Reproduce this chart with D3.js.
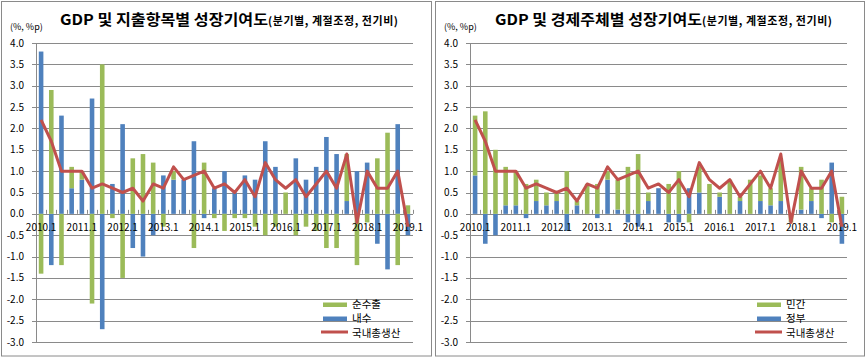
<!DOCTYPE html>
<html><head><meta charset="utf-8">
<script src="https://cdn.jsdelivr.net/npm/d3@7"></script>
<style>
body{margin:0;background:#fff}
svg text{font-family:"Noto Sans CJK KR","Malgun Gothic",sans-serif;fill:#000}
</style>
</head><body>
<svg id="c" width="868" height="359"></svg>
<script>
// ---- data ----
const quarters = ["2010.1","2010.2","2010.3","2010.4","2011.1","2011.2","2011.3","2011.4",
  "2012.1","2012.2","2012.3","2012.4","2013.1","2013.2","2013.3","2013.4",
  "2014.1","2014.2","2014.3","2014.4","2015.1","2015.2","2015.3","2015.4",
  "2016.1","2016.2","2016.3","2016.4","2017.1","2017.2","2017.3","2017.4",
  "2018.1","2018.2","2018.3","2018.4","2019.1"];
const xTickLabels = ["2010.1","2011.1","2012.1","2013.1","2014.1","2015.1","2016.1","2017.1","2018.1","2019.1"];
const yTicks = [-3.0,-2.5,-2.0,-1.5,-1.0,-0.5,0.0,0.5,1.0,1.5,2.0,2.5,3.0,3.5,4.0];

const gdp = [2.2,1.7,1.0,1.0,1.0,0.6,0.7,0.6,0.5,0.6,0.3,0.7,0.6,1.1,0.8,0.9,
  1.0,0.6,0.7,0.5,0.8,0.4,1.2,0.8,0.6,0.8,0.4,0.7,1.0,0.6,1.4,-0.2,1.0,0.6,0.6,1.0,-0.3];
// left chart
const domestic = [3.8,-1.2,2.3,0.6,0.8,2.7,-2.7,0.7,2.1,-0.8,-1.0,-0.5,0.9,0.8,0.8,1.7,
  -0.1,0.6,1.0,0.5,0.9,0.8,1.7,1.1,0.0,1.3,0.8,1.1,1.8,1.4,0.3,1.0,1.2,-0.7,-1.3,2.1,-0.5];
const netExports = [-1.4,2.9,-1.2,0.5,0.2,-2.1,3.5,-0.1,-1.5,1.3,1.4,1.2,-0.3,0.2,0.0,-0.8,
  1.2,-0.1,-0.4,-0.1,-0.1,-0.3,-0.5,-0.3,0.5,-0.5,-0.3,-0.4,-0.8,-0.8,1.1,-1.2,-0.2,1.3,1.9,-1.2,0.2];
// right chart
const government = [0.9,-0.7,-0.5,0.2,0.2,-0.1,0.3,0.2,0.3,-0.4,0.2,0.0,-0.1,0.8,0.1,-0.2,
  -0.3,0.3,0.6,-0.2,-0.2,0.6,0.5,0.0,0.4,0.0,0.3,0.0,0.3,0.2,0.3,0.0,0.1,0.3,-0.1,1.2,-0.7];
const privateSector = [1.4,2.4,1.5,0.9,0.8,0.7,0.5,0.3,0.2,1.0,0.1,0.7,0.7,0.2,0.7,1.1,
  1.4,0.2,0.0,0.7,1.0,-0.2,0.6,0.7,0.1,0.8,0.1,0.8,0.6,0.4,1.0,-0.2,1.0,0.3,0.8,-0.2,0.4];

const COLORS = {green:"#9BBB59", blue:"#4F81BD", red:"#C0504D", grid:"#8a8a8a", border:"#8a8a8a"};

const svg = d3.select("#c");

function drawPanel(cfg){
  const ox = cfg.ox;
  const g = svg.append("g");
  // border
  g.append("rect").attr("x",ox+1.5).attr("y",1.5).attr("width",cfg.bw).attr("height",354.5)
    .attr("fill","#fff").attr("stroke",COLORS.border).attr("stroke-width",1);

  const x = d3.scaleBand().domain(quarters).range([ox+36, ox+413]).paddingInner(0.55).paddingOuter(0.275);
  const y = d3.scaleLinear().domain([-3,4]).range([342,43]);
  const step = x.step();

  // gridlines
  g.append("g").selectAll("line").data(yTicks).join("line")
    .attr("x1",ox+32).attr("x2",ox+413)
    .attr("y1",d=>Math.round(y(d))+0.5).attr("y2",d=>Math.round(y(d))+0.5)
    .attr("stroke",COLORS.grid).attr("stroke-width",1);
  // y labels
  g.append("g").selectAll("text").data(yTicks).join("text")
    .attr("x",ox+24).attr("y",d=>y(d)).attr("dy","0.35em").attr("text-anchor","end")
    .attr("font-size",10).text(d=>d.toFixed(1));
  // y axis line
  g.append("line").attr("x1",ox+36.5).attr("x2",ox+36.5).attr("y1",y(4)).attr("y2",y(-3))
    .attr("stroke",COLORS.grid);

  // stacked bars
  const rows = quarters.map((q,i)=>({q, blue:cfg.blue[i], green:cfg.green[i]}));
  const stack = d3.stack().keys(["blue","green"]).offset(d3.stackOffsetDiverging)(rows);
  g.append("g").selectAll("g").data(stack).join("g")
    .attr("fill",d=>COLORS[d.key])
    .selectAll("rect").data(d=>d).join("rect")
    .attr("x",d=>x(d.data.q)).attr("width",x.bandwidth())
    .attr("y",d=>y(Math.max(d[0],d[1])))
    .attr("height",d=>Math.abs(y(d[0])-y(d[1])));

  // x-axis inside ticks at category boundaries
  const bounds = quarters.map((q,i)=>x(q)-step*0.275).concat([x(quarters[quarters.length-1])-step*0.275+step]);
  g.append("g").selectAll("line").data(bounds).join("line")
    .attr("x1",d=>Math.round(d)+0.5).attr("x2",d=>Math.round(d)+0.5)
    .attr("y1",y(0)).attr("y2",y(0)-4)
    .attr("stroke",COLORS.grid);

  // x labels
  g.append("g").selectAll("text").data(xTickLabels).join("text")
    .attr("x",d=>x(d)+x.bandwidth()/2).attr("y",231).attr("text-anchor","middle")
    .attr("font-size",10).text(d=>d);

  // GDP line
  const line = d3.line().x((d,i)=>x(quarters[i])+x.bandwidth()/2).y(d=>y(d));
  g.append("path").datum(gdp).attr("d",line).attr("fill","none")
    .attr("stroke",COLORS.red).attr("stroke-width",3).attr("stroke-linejoin","round");

  // titles
  g.append("text").attr("x",ox+cfg.tx).attr("y",25).attr("font-size",15).attr("font-weight","bold")
    .attr("textLength",cfg.tw).attr("lengthAdjust","spacingAndGlyphs").text(cfg.title);
  g.append("text").attr("x",ox+cfg.tx+cfg.tw).attr("y",25).attr("font-size",11).attr("font-weight","bold")
    .attr("textLength",130).attr("lengthAdjust","spacing").text("(분기별, 계절조정, 전기비)");
  g.append("text").attr("x",ox+10).attr("y",30).attr("font-size",9).text("(%, %p)");

  // legend
  const lx = ox+323;
  g.append("rect").attr("x",lx).attr("y",302.5).attr("width",24).attr("height",4.5).attr("fill",COLORS.green);
  g.append("rect").attr("x",lx).attr("y",316.5).attr("width",24).attr("height",4.5).attr("fill",COLORS.blue);
  g.append("line").attr("x1",lx-2).attr("x2",lx+25).attr("y1",332).attr("y2",332)
    .attr("stroke",COLORS.red).attr("stroke-width",3);
  const leg = [[cfg.greenName,304.5],[cfg.blueName,318.5],["국내총생산",333]];
  g.append("g").selectAll("text").data(leg).join("text")
    .attr("x",lx+29).attr("y",d=>d[1]).attr("dy","0.36em").attr("font-size",10.5).text(d=>d[0]);
}

drawPanel({ox:0, bw:430, tx:60, tw:208, title:"GDP 및 지출항목별 성장기여도",
  blue:domestic, green:netExports, blueName:"내수", greenName:"순수출"});
drawPanel({ox:434, bw:429, tx:61, tw:207, title:"GDP 및 경제주체별 성장기여도",
  blue:government, green:privateSector, blueName:"정부", greenName:"민간"});
</script>
</body></html>
